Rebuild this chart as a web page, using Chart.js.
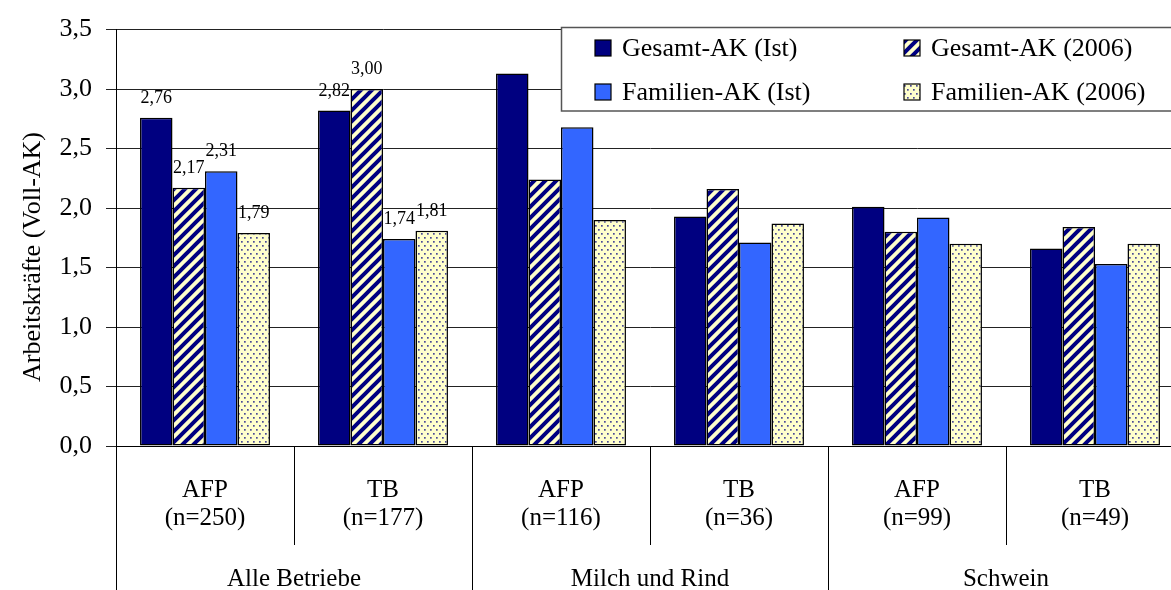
<!DOCTYPE html>
<html>
<head>
<meta charset="utf-8">
<script src="https://cdn.jsdelivr.net/npm/chart.js@4/dist/chart.umd.min.js"></script>
<style>
  body { margin: 0; overflow: hidden; background: #fff; }
  #box { width: 1190px; height: 590px; }
</style>
</head>
<body>
<div id="box"><canvas id="grafico" width="1190" height="590"></canvas></div>
<script>
// Werte
var kategorien = [['AFP', '(n=250)'], ['TB', '(n=177)'], ['AFP', '(n=116)'], ['TB', '(n=36)'], ['AFP', '(n=99)'], ['TB', '(n=49)']];
var gruppen = ['Alle Betriebe', 'Milch und Rind', 'Schwein'];
var serien = ['Gesamt-AK (Ist)', 'Gesamt-AK (2006)', 'Familien-AK (Ist)', 'Familien-AK (2006)'];

var gesamtIst = [2.76, 2.82, 3.13, 1.93, 2.01, 1.66];
var gesamt2006 = [2.17, 3.00, 2.24, 2.16, 1.80, 1.84];
var familienIst = [2.31, 1.74, 2.68, 1.71, 1.92, 1.53];
var familien2006 = [1.79, 1.81, 1.90, 1.87, 1.70, 1.70];

// nur bei diesen Kategorien stehen Zahlen ueber den Balken
var mitWerten = [0, 1];

var schrift = '"Liberation Serif", "Times New Roman", serif';

function komma(v, stellen) {
    return v.toFixed(stellen).replace('.', ',');
}

// Schraffur (Streifen) fuer Gesamt-AK (2006)
function musterStreifen() {
    var n = 11;
    var c = document.createElement('canvas');
    c.width = n; c.height = n;
    var g = c.getContext('2d');
    g.fillStyle = '#FFFFCC';
    g.fillRect(0, 0, n, n);
    g.strokeStyle = '#000080';
    g.lineWidth = 4;
    g.beginPath();
    g.moveTo(-n / 2, n / 2); g.lineTo(n / 2, -n / 2);
    g.moveTo(0, n); g.lineTo(n, 0);
    g.moveTo(n / 2, n * 1.5); g.lineTo(n * 1.5, n / 2);
    g.stroke();
    return g.createPattern(c, 'repeat');
}

// Punkte fuer Familien-AK (2006)
function musterPunkte() {
    var c = document.createElement('canvas');
    c.width = 6; c.height = 8;
    var g = c.getContext('2d');
    g.fillStyle = '#FFFFCC';
    g.fillRect(0, 0, 6, 8);
    g.fillStyle = '#4a4a96';
    g.fillRect(1, 1, 1.7, 1.7);
    g.fillRect(4, 5, 1.7, 1.7);
    return g.createPattern(c, 'repeat');
}

var farben = ['#000080', musterStreifen(), '#3366FF', musterPunkte()];
var werte = [gesamtIst, gesamt2006, familienIst, familien2006];

var datasets = [];
for (var i = 0; i < serien.length; i++) {
    datasets.push({
        label: serien[i],
        data: werte[i],
        backgroundColor: farben[i],
        borderColor: '#000',
        borderWidth: 1.5,
        borderSkipped: false,
        categoryPercentage: 0.73,
        barPercentage: 1.0
    });
}

var extras = {
    id: 'extras',
    afterDatasetsDraw: function (chart) {
        var ctx = chart.ctx;
        // Zahlen ueber den Balken
        ctx.save();
        ctx.fillStyle = '#000';
        ctx.font = '18px ' + schrift;
        ctx.textAlign = 'center';
        ctx.textBaseline = 'alphabetic';
        for (var d = 0; d < chart.data.datasets.length; d++) {
            var meta = chart.getDatasetMeta(d);
            for (var k = 0; k < mitWerten.length; k++) {
                var idx = mitWerten[k];
                var bar = meta.data[idx];
                ctx.fillText(komma(chart.data.datasets[d].data[idx], 2), bar.x, bar.y - 15);
            }
        }
        ctx.restore();
    },
    afterDraw: function (chart) {
        var ctx = chart.ctx;
        var area = chart.chartArea;
        var x = chart.scales.x;

        // Trennlinien unter der Achse
        ctx.save();
        ctx.strokeStyle = '#000';
        ctx.lineWidth = 1;
        var breite = (area.right - area.left) / kategorien.length;
        for (var i = 0; i <= kategorien.length; i++) {
            var px = Math.round(area.left + i * breite) + 0.5;
            var unten = (i % 2 === 0) ? 590 : 545;
            ctx.beginPath();
            ctx.moveTo(px, area.bottom);
            ctx.lineTo(px, unten);
            ctx.stroke();
        }

        // Gruppennamen
        ctx.fillStyle = '#000';
        ctx.font = '25px ' + schrift;
        ctx.textAlign = 'center';
        ctx.textBaseline = 'middle';
        for (var g = 0; g < gruppen.length; g++) {
            var mitte = (x.getPixelForValue(g * 2) + x.getPixelForValue(g * 2 + 1)) / 2;
            ctx.fillText(gruppen[g], mitte, 579);
        }

        // Achsentitel
        ctx.save();
        ctx.translate(33, 257);
        ctx.rotate(-Math.PI / 2);
        ctx.font = '26px ' + schrift;
        ctx.fillText('Arbeitskräfte (Voll-AK)', 0, 0);
        ctx.restore();

        // Legende
        ctx.fillStyle = '#fff';
        ctx.fillRect(561.5, 27.5, 700, 83.5);
        ctx.strokeStyle = '#555';
        ctx.lineWidth = 1.5;
        ctx.strokeRect(561.5, 27.5, 700, 83.5);
        var spalten = [595, 904];
        var zeilen = [48, 92];
        ctx.font = '26px ' + schrift;
        ctx.textAlign = 'left';
        ctx.textBaseline = 'middle';
        for (var s = 0; s < chart.data.datasets.length; s++) {
            var lx = spalten[s % 2];
            var ly = zeilen[Math.floor(s / 2)];
            ctx.fillStyle = chart.data.datasets[s].backgroundColor;
            ctx.fillRect(lx, ly - 8, 16, 16);
            ctx.strokeStyle = '#000';
            ctx.lineWidth = 1.2;
            ctx.strokeRect(lx, ly - 8, 16, 16);
            ctx.fillStyle = '#000';
            ctx.fillText(chart.data.datasets[s].label, lx + 27, ly + 1);
        }
        ctx.restore();
    }
};

var ctx = document.getElementById('grafico');
new Chart(ctx, {
    type: 'bar',
    data: {
        labels: kategorien,
        datasets: datasets
    },
    options: {
        responsive: false,
        animation: false,
        devicePixelRatio: 1,
        layout: { padding: { top: 27.5, right: 6, left: 0, bottom: 0 } },
        plugins: {
            legend: { display: false },
            tooltip: { enabled: false }
        },
        scales: {
            x: {
                afterFit: function (scale) { scale.height = 144; },
                grid: { display: false, drawTicks: false },
                border: { display: true, color: '#000', width: 1 },
                ticks: {
                    color: '#000',
                    font: { family: schrift, size: 25, lineHeight: 1.12 },
                    maxRotation: 0,
                    autoSkip: false,
                    padding: 30
                }
            },
            y: {
                min: 0,
                max: 3.5,
                afterFit: function (scale) { scale.width = 116; },
                grid: { color: '#222', lineWidth: 1, tickLength: 10 },
                border: { display: true, color: '#000', width: 1 },
                ticks: {
                    stepSize: 0.5,
                    color: '#000',
                    padding: 14,
                    font: { family: schrift, size: 26 },
                    callback: function (v) { return komma(v, 1); }
                }
            }
        }
    },
    plugins: [extras]
});
</script>
</body>
</html>
